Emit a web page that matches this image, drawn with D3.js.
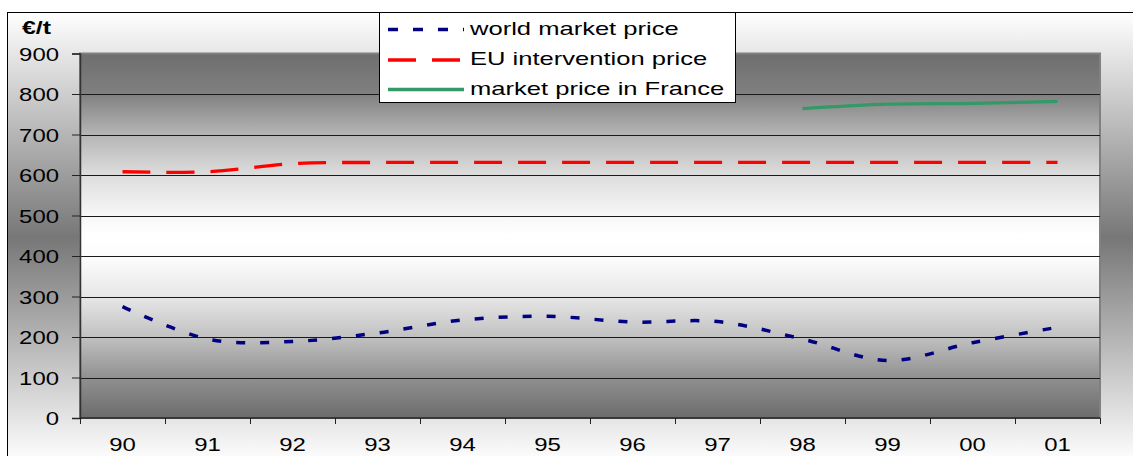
<!DOCTYPE html>
<html>
<head>
<meta charset="utf-8">
<script src="https://cdn.jsdelivr.net/npm/d3@7"></script>
<style>
  html, body { margin: 0; padding: 0; background: #ffffff; }
  svg { display: block; font-family: "Liberation Sans", Arial, sans-serif; }
</style>
</head>
<body>
<svg id="chart" width="1133" height="456"></svg>
<script>
// Years on the category axis
const years = ["90", "91", "92", "93", "94", "95", "96", "97", "98", "99", "00", "01"];

// Prices in €/t
const worldMarketPrice = [275, 195, 189, 210, 242, 251, 237, 238, 195, 142, 186, 224];
const euInterventionPrice = [608, 608, 628, 631, 631, 631, 631, 631, 631, 631, 631, 631];
const franceYears = ["98", "99", "00", "01"];
const franceMarketPrice = [764, 775, 777, 782];

// Value axis ticks
const yTicks = [0, 100, 200, 300, 400, 500, 600, 700, 800, 900];

const seriesNames = ["world market price", "EU intervention price", "market price in France"];

const svg = d3.select("#chart");
const W = 1133, H = 456;
const plot = { left: 80, right: 1100, top: 53.5, bottom: 418 };

const defs = svg.append("defs");

// Chart area background: light at top and bottom, grey band in the middle
const bgGrad = defs.append("linearGradient")
  .attr("id", "bgGrad").attr("x1", 0).attr("y1", 0).attr("x2", 0).attr("y2", 1);
[[0, "#ffffff"], [0.5, "#777777"], [1, "#ffffff"]].forEach(([o, c]) =>
  bgGrad.append("stop").attr("offset", o).attr("stop-color", c));

// Plot area background: grey edges fading to white in the middle
const plotGrad = defs.append("linearGradient")
  .attr("id", "plotGrad").attr("x1", 0).attr("y1", 0).attr("x2", 0).attr("y2", 1);
[[0, "#6e6e6e"], [0.11, "#808080"], [0.22, "#b4b4b4"], [0.33, "#dcdcdc"],
 [0.44, "#f6f6f6"], [0.5, "#ffffff"], [0.56, "#fcfcfc"], [0.67, "#e6e6e6"],
 [0.78, "#c0c0c0"], [0.89, "#909090"], [1, "#6c6c6c"]].forEach(([o, c]) =>
  plotGrad.append("stop").attr("offset", o).attr("stop-color", c));

svg.append("rect")
  .attr("x", 7.5).attr("y", 12.5).attr("width", W + 20).attr("height", 450)
  .attr("fill", "url(#bgGrad)").attr("stroke", "#000").attr("stroke-width", 1);

const x = d3.scaleBand().domain(years).range([plot.left, plot.right]).padding(0);
const y = d3.scaleLinear().domain([0, 900]).range([plot.bottom, plot.top]);
const cx = d => x(d) + x.bandwidth() / 2;

svg.append("rect")
  .attr("x", plot.left).attr("y", plot.top)
  .attr("width", plot.right - plot.left).attr("height", plot.bottom - plot.top)
  .attr("fill", "url(#plotGrad)").attr("stroke", "#808080").attr("stroke-width", 2);

// Horizontal gridlines
svg.append("g").selectAll("line")
  .data(yTicks.filter(t => t > 0 && t < 900))
  .join("line")
  .attr("x1", plot.left).attr("x2", plot.right)
  .attr("y1", d => Math.round(y(d)) + 0.5).attr("y2", d => Math.round(y(d)) + 0.5)
  .attr("stroke", "#1a1a1a").attr("stroke-width", 1);

// Value axis
const yAxis = svg.append("g")
  .attr("transform", `translate(${plot.left},0)`)
  .call(d3.axisLeft(y).tickValues(yTicks).tickSize(8).tickPadding(0).tickFormat(d3.format("d")));
yAxis.select(".domain").attr("stroke", "#333").attr("stroke-width", 1.5);
yAxis.selectAll(".tick line").attr("stroke", "#222");
yAxis.selectAll(".tick text")
  .attr("x", null).attr("dy", null)
  .attr("font-size", 18).attr("fill", "#000").attr("text-anchor", "end")
  .attr("transform", "translate(-21,6.5) scale(1.33,1)");

// Category axis with ticks on category boundaries
const xAxis = svg.append("g")
  .attr("transform", `translate(0,${plot.bottom})`);
xAxis.append("line")
  .attr("x1", plot.left).attr("x2", plot.right).attr("y1", 0).attr("y2", 0)
  .attr("stroke", "#222").attr("stroke-width", 1.5);
xAxis.selectAll("line.tk")
  .data(years.concat(["end"]))
  .join("line").attr("class", "tk")
  .attr("x1", (d, i) => Math.round(plot.left + i * x.bandwidth()) + 0.5)
  .attr("x2", (d, i) => Math.round(plot.left + i * x.bandwidth()) + 0.5)
  .attr("y1", 0).attr("y2", 6)
  .attr("stroke", "#222");
xAxis.selectAll("text")
  .data(years)
  .join("text")
  .attr("font-size", 18).attr("fill", "#000").attr("text-anchor", "middle")
  .attr("transform", d => `translate(${cx(d)},33) scale(1.33,1)`)
  .text(d => d);

// Unit label
svg.append("text")
  .attr("font-size", 18).attr("font-weight", "bold").attr("fill", "#000")
  .attr("transform", "translate(22,34) scale(1.38,1)")
  .text("€/t");

// Series lines, smoothed
const line = d3.line().curve(d3.curveCatmullRom.alpha(0));

svg.append("path")
  .attr("d", line(years.map((yr, i) => [cx(yr), y(euInterventionPrice[i])])))
  .attr("fill", "none").attr("stroke", "#ff0000").attr("stroke-width", 3.3)
  .attr("stroke-dasharray", "28,16");

svg.append("path")
  .attr("d", line(years.map((yr, i) => [cx(yr), y(worldMarketPrice[i])])))
  .attr("fill", "none").attr("stroke", "#000080").attr("stroke-width", 3.5)
  .attr("stroke-dasharray", "9,15");

svg.append("path")
  .attr("d", line(franceYears.map((yr, i) => [cx(yr), y(franceMarketPrice[i])])))
  .attr("fill", "none").attr("stroke", "#339966").attr("stroke-width", 3.3);

// Legend
const legend = svg.append("g");
legend.append("rect")
  .attr("x", 379.5).attr("y", 12.5).attr("width", 356).attr("height", 90)
  .attr("fill", "#ffffff").attr("stroke", "#000").attr("stroke-width", 1);
const legendStyles = [
  { color: "#000080", dash: "10,15", width: 3.5 },
  { color: "#ff0000", dash: "28,16", width: 3.3 },
  { color: "#339966", dash: null, width: 3.3 }
];
const legendRows = [29.5, 60, 89.5];
seriesNames.forEach((name, i) => {
  legend.append("line")
    .attr("x1", 388).attr("x2", 464)
    .attr("y1", legendRows[i]).attr("y2", legendRows[i])
    .attr("stroke", legendStyles[i].color).attr("stroke-width", legendStyles[i].width)
    .attr("stroke-dasharray", legendStyles[i].dash);
  legend.append("text")
    .attr("font-size", 18).attr("fill", "#000")
    .attr("transform", `translate(470,${legendRows[i] + 5}) scale(1.42,1)`)
    .text(name);
});
</script>
</body>
</html>
